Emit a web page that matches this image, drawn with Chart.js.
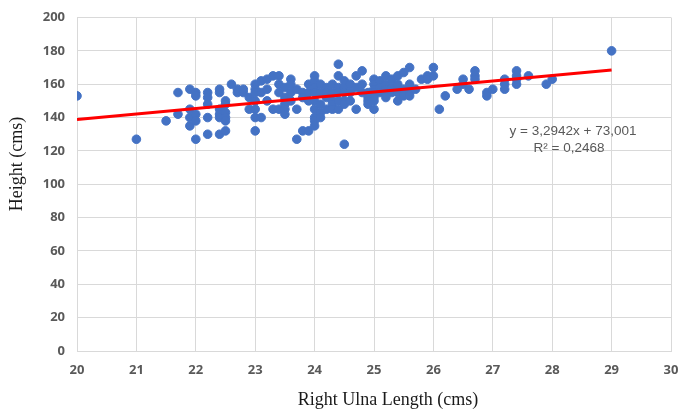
<!DOCTYPE html>
<html>
<head>
<meta charset="utf-8">
<script src="https://cdn.jsdelivr.net/npm/chart.js@4/dist/chart.umd.min.js"></script>
<style>
  html, body { margin: 0; padding: 0; background: #fff; }
  #wrap { width: 679px; height: 411px; }
</style>
</head>
<body>
<div id="wrap"><canvas id="chart" width="679" height="411"></canvas></div>
<script>
// ulna length (cms) and height (cms)
var ulna = [
  20.0, 21.0, 21.5, 21.7, 21.7,
  21.9, 21.9, 21.9, 21.9, 22.0, 22.0, 22.0, 22.0, 22.0,
  22.2, 22.2, 22.2, 22.2, 22.2,
  22.4, 22.4, 22.4, 22.4, 22.4, 22.4,
  22.5, 22.5, 22.5, 22.5, 22.5, 22.5,
  22.6, 22.7, 22.7, 22.8, 22.8, 22.9, 22.9,
  23.0, 23.0, 23.0, 23.0, 23.0, 23.0, 23.0,
  23.1, 23.1, 23.1, 23.2, 23.2, 23.2, 23.3, 23.3,
  23.4, 23.4, 23.4, 23.4, 23.5, 23.5, 23.5, 23.5, 23.5,
  23.6, 23.6, 23.6, 23.6, 23.7, 23.7, 23.7, 23.8, 23.8, 23.8,
  23.9, 23.9, 23.9, 23.9,
  24.0, 24.0, 24.0, 24.0, 24.0, 24.0, 24.0, 24.0, 24.0,
  24.1, 24.1, 24.1, 24.1, 24.1, 24.2, 24.2, 24.2, 24.2,
  24.3, 24.3, 24.3, 24.3, 24.3, 24.4, 24.4, 24.4, 24.4, 24.4, 24.4,
  24.5, 24.5, 24.5, 24.5, 24.5, 24.5, 24.6, 24.6, 24.6,
  24.7, 24.7, 24.7, 24.8, 24.8, 24.8, 24.9, 24.9, 24.9, 24.9,
  25.0, 25.0, 25.0, 25.0, 25.0, 25.0, 25.0,
  25.1, 25.1, 25.1, 25.2, 25.2, 25.2, 25.2, 25.2,
  25.3, 25.3, 25.3, 25.4, 25.4, 25.4, 25.4,
  25.5, 25.5, 25.5, 25.6, 25.6, 25.6, 25.6, 25.7,
  25.8, 25.9, 25.9, 26.0, 26.0, 26.1, 26.2,
  26.4, 26.5, 26.5, 26.6, 26.7, 26.7, 26.7, 26.9, 26.9, 27.0,
  27.2, 27.2, 27.2, 27.4, 27.4, 27.4, 27.4, 27.6, 27.9, 28.0, 29.0
];
var height = [
  153, 127, 138, 155, 142,
  157, 145, 140, 135, 155, 153, 142, 138, 127,
  155, 152, 148, 140, 130,
  157, 155, 145, 142, 140, 130,
  150, 148, 143, 140, 138, 132,
  160, 157, 155, 155, 157, 152, 145,
  160, 157, 155, 150, 145, 140, 132,
  162, 155, 140, 163, 157, 150, 165, 145,
  165, 160, 155, 145, 158, 152, 148, 145, 142,
  163, 160, 155, 150, 157, 145, 127, 155, 152, 132,
  160, 155, 150, 132,
  165, 162, 158, 155, 150, 145, 140, 138, 135,
  160, 155, 148, 143, 140, 158, 155, 152, 145,
  160, 155, 150, 148, 145, 172, 165, 158, 155, 150, 145,
  162, 158, 155, 150, 148, 124, 160, 155, 150,
  165, 158, 145, 168, 160, 155, 155, 152, 150, 148,
  163, 160, 157, 155, 152, 150, 145,
  162, 158, 155, 165, 160, 157, 155, 152,
  163, 158, 155, 165, 160, 155, 150,
  167, 157, 153, 170, 160, 155, 153, 157,
  163, 165, 163, 170, 165, 145, 153,
  157, 163, 160, 157, 168, 165, 163, 155, 153, 157,
  163, 160, 157, 168, 165, 163, 160, 165, 160, 163, 180
];

// linear trendline from the picture's equation
var slope = 3.2942;
var intercept = 73.001;
var rSquared = 0.2468;
var trendX = [20, 29];

var xTicks = [20, 21, 22, 23, 24, 25, 26, 27, 28, 29, 30];
var yTicks = [0, 20, 40, 60, 80, 100, 120, 140, 160, 180, 200];

var xTitle = 'Right Ulna Length (cms)';
var yTitle = 'Height (cms)';

function fmt(n, d) {
  return n.toFixed(d).replace('.', ',');
}

var points = [];
for (var i = 0; i < ulna.length; i++) {
  points.push({ x: ulna[i], y: height[i] });
}
var trend = [];
for (var j = 0; j < trendX.length; j++) {
  trend.push({ x: trendX[j], y: slope * trendX[j] + intercept });
}

// equation box and the two axis titles (Excel puts them a bit off centre)
var extraText = {
  id: 'extraText',
  afterDatasetsDraw: function(chart) {
    var ctx = chart.ctx;
    var xs = chart.scales.x, ys = chart.scales.y;
    var cx = xs.getPixelForValue(28.35);
    var cy = ys.getPixelForValue(131.5);
    ctx.save();
    ctx.fillStyle = '#595959';
    ctx.font = '13.5px "Liberation Sans", Arial, sans-serif';
    ctx.textAlign = 'center';
    ctx.textBaseline = 'middle';
    ctx.fillText('y = ' + fmt(slope, 4) + 'x + ' + fmt(intercept, 3), cx, cy);
    ctx.fillText('R\u00B2 = ' + fmt(rSquared, 4), cx - 4, cy + 17);

    ctx.fillStyle = '#1a1a1a';
    ctx.font = '18px "Liberation Serif", "Times New Roman", serif';
    ctx.fillText(xTitle, 388, 400);
    ctx.translate(17, 164);
    ctx.rotate(-Math.PI / 2);
    ctx.fillText(yTitle, 0, 0);
    ctx.restore();
  }
};

new Chart(document.getElementById('chart'), {
  type: 'scatter',
  data: {
    datasets: [
      {
        data: points,
        backgroundColor: '#4472C4',
        borderColor: '#4472C4',
        pointRadius: 4.3,
        pointHoverRadius: 4.3,
        order: 2
      },
      {
        data: trend,
        showLine: true,
        borderColor: '#FF0000',
        borderWidth: 3,
        pointRadius: 0,
        fill: false,
        order: 1
      }
    ]
  },
  options: {
    responsive: false,
    animation: false,
    layout: { padding: { top: 0, right: 8, left: 0, bottom: 0 } },
    plugins: {
      legend: { display: false },
      tooltip: { enabled: false }
    },
    scales: {
      x: {
        type: 'linear',
        min: 20, max: 30,
        afterBuildTicks: function(s) { s.ticks = xTicks.map(function(v){ return { value: v }; }); },
        grid: { color: '#d9d9d9', drawTicks: false },
        border: { color: '#d9d9d9' },
        ticks: {
          color: '#595959',
          padding: 11,
          font: { family: '"Open Sans", sans-serif', size: 13, weight: 'bold' }
        },
        afterFit: function(s) { s.height = 60; s.paddingLeft = 0; s.paddingRight = 0; }
      },
      y: {
        type: 'linear',
        min: 0, max: 200,
        afterBuildTicks: function(s) { s.ticks = yTicks.map(function(v){ return { value: v }; }); },
        grid: { color: '#d9d9d9', drawTicks: false },
        border: { display: false },
        ticks: {
          color: '#595959',
          padding: 12,
          font: { family: '"Open Sans", sans-serif', size: 13, weight: 'bold' }
        },
        afterFit: function(s) { s.width = 77; s.paddingTop = 17.5; s.paddingBottom = 0; }
      }
    }
  },
  plugins: [extraText]
});
</script>
</body>
</html>
